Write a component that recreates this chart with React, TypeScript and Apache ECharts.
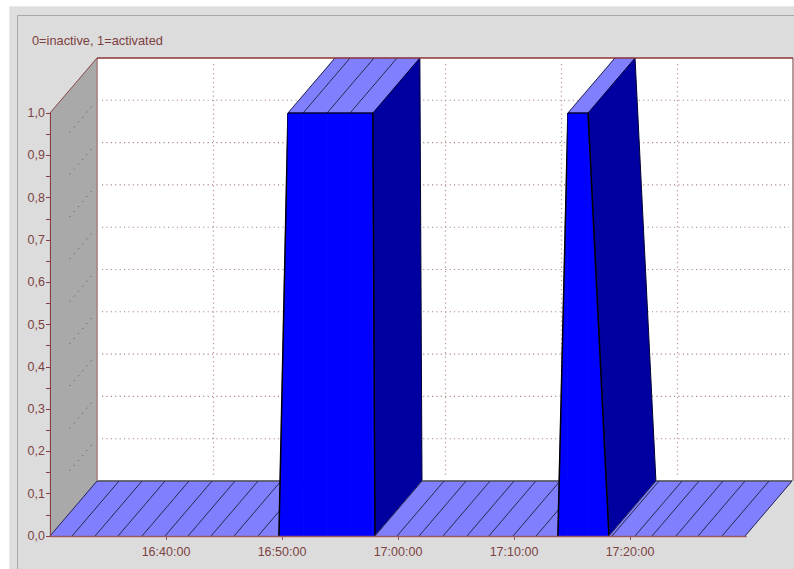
import React, { useEffect, useRef } from "react";
import * as echarts from "echarts";

// Data
const titleText = "0=inactive, 1=activated";
const sampleTimes = [
  "16:30:00", "16:31:54", "16:33:53", "16:35:52", "16:37:56", "16:39:55", "16:41:54", "16:43:53",
  "16:45:52", "16:47:56", "16:49:44", "16:50:31", "16:51:49", "16:53:53", "16:55:52", "16:57:50",
  "16:58:01", "16:59:55", "17:01:49", "17:03:53", "17:05:57", "17:07:50", "17:09:55", "17:11:54",
  "17:13:47", "17:14:39", "17:16:23", "17:18:11", "17:18:27", "17:20:26", "17:21:54", "17:23:58",
  "17:25:52", "17:27:56", "17:29:55",
];
const sampleValues = [
  0, 0, 0, 0, 0, 0, 0, 0,
  0, 0, 0, 1, 1, 1, 1, 1,
  0, 0, 0, 0, 0, 0, 0, 0,
  0, 1, 1, 0, 0, 0, 0, 0,
  0, 0, 0,
];
const xTickTimes = ["16:40:00", "16:50:00", "17:00:00", "17:10:00", "17:20:00"];
const xGridTimes = ["16:40:00", "16:50:00", "17:00:00", "17:10:00", "17:20:00"];
const yGridValues = [0.1, 0.2, 0.3, 0.4, 0.5, 0.6, 0.7, 0.8, 0.9];
const xStart = "16:30:00";
const xEnd = "17:30:00";

const ms = (t: string) => Date.parse(`2000-01-01T${t}Z`);

const DX = 47;
const DY = -55;
const TEXT = "#7d4242";
const FONT = "'Liberation Sans', Arial, sans-serif";

const segments = sampleTimes.slice(0, -1).map((t, i) => [
  ms(t), sampleValues[i], ms(sampleTimes[i + 1]), sampleValues[i + 1], i === sampleTimes.length - 2 ? 1 : 0,
]);

const poly = (points: number[][], fill: string, stroke?: string, lineWidth = 0.6) => ({
  type: "polygon",
  shape: { points },
  style: { fill, stroke: stroke || fill, lineWidth },
  silent: true,
});
const line = (a: number[], b: number[], stroke: string, lineWidth = 1, lineDash?: number[]) => ({
  type: "line",
  shape: { x1: a[0], y1: a[1], x2: b[0], y2: b[1] },
  style: { stroke, lineWidth, lineDash, fill: "none" },
  silent: true,
});
const back = (p: number[]) => [p[0] + DX, p[1] + DY];

function renderWalls(_: any, api: any) {
  const a0 = ms(xStart);
  const a1 = ms(xEnd);
  const f00 = api.coord([a0, 0]);
  const f01 = api.coord([a0, 1]);
  const f10 = api.coord([a1, 0]);
  const b00 = back(f00);
  const b01 = back(f01);
  const b10 = back(f10);
  const children: any[] = [
    poly([b01, [b10[0], b01[1]], b10, b00], "#ffffff"),
    poly([f00, f01, b01, b00], "#a9a9a9"),
  ];
  yGridValues.forEach((v) => {
    const p = api.coord([a0, v]);
    const q = back(p);
    children.push(line([q[0] + 5, q[1]], [b10[0] - 4, q[1]], "#a87f7f", 1.1, [1.1, 3.3]));
    children.push(line([p[0] + DX * 0.42, p[1] + DY * 0.42], [p[0] + DX * 0.95, p[1] + DY * 0.95], "#5f4a4a", 1, [1, 5.5]));
  });
  xGridTimes.forEach((t) => {
    const p = back(api.coord([ms(t), 0]));
    children.push(line([p[0] + 0.5, b01[1] + 6], [p[0] + 0.5, p[1] - 5], "#c29a9a", 1.3, [1.3, 3.2]));
  });
  return { type: "group", children };
}

function renderBand(_: any, api: any) {
  const t0 = api.value(0);
  const v0 = api.value(1);
  const t1 = api.value(2);
  const v1 = api.value(3);
  const isLast = api.value(4) === 1;
  const a = api.coord([t0, v0]);
  const b = api.coord([t1, v1]);
  const base0 = api.coord([t0, 0]);
  const base1 = api.coord([t1, 0]);
  const children: any[] = [];
  const flat = v0 === v1;
  if (flat) {
    children.push(poly([a, b, back(b), back(a)], "#8080ff"));
    if (v0 === 0) children.push(line(back(a), back(b), "#555555", 1.6));
    children.push(line(a, back(a), "#26264f", 1));
    if (isLast) children.push(line(b, back(b), "#26264f", 1));
  } else if (v1 < v0) {
    children.push(poly([a, back(a), back(b), b], "#0000a0", "#000033", 1));
  } else {
    children.push(line(a, back(a), "#26264f", 1));
  }
  if (v0 > 0 || v1 > 0) {
    children.push(poly([base0, a, b, base1], "#0000ff"));
    children.push(line(a, b, "#000000", flat ? 1.2 : 1.5));
  }
  return { type: "group", children };
}

function renderFrame(_: any, api: any) {
  const a0 = ms(xStart);
  const a1 = ms(xEnd);
  const b00 = back(api.coord([a0, 0]));
  const b01 = back(api.coord([a0, 1]));
  const b11 = back(api.coord([a1, 1]));
  const b10 = back(api.coord([a1, 0]));
  const f01 = api.coord([a0, 1]);
  return {
    type: "group",
    children: [
      line(b00, b01, "#a98383", 1.6),
      line(b10, b11, "#b59c9c", 2),
      line(f01, b01, "#8b4a4a", 1),
      line(b01, b11, "#8b3535", 1.4),
    ],
  };
}

const option: any = {
  animation: false,
  useUTC: true,
  title: {
    text: titleText,
    left: 27,
    top: 29,
    textStyle: { color: TEXT, fontSize: 12.8, fontWeight: "normal", fontFamily: FONT },
  },
  graphic: [
    { type: "rect", z: -2, silent: true, shape: { x: 9.5, y: 6.5, width: 790, height: 570 }, style: { fill: "#dedede", stroke: "#e9e9e9", lineWidth: 1 } },
    { type: "rect", z: -1, silent: true, shape: { x: 17.5, y: 15.5, width: 790, height: 570 }, style: { fill: "#dcdcdc", stroke: "#a9a9a9", lineWidth: 1 } },
  ],
  grid: { left: 50, top: 113, width: 696, height: 423, containLabel: false },
  xAxis: {
    type: "time",
    min: ms(xStart),
    max: ms(xEnd),
    z: 6,
    splitLine: { show: false },
    axisLine: { show: true, onZero: false, lineStyle: { color: "#96575f", width: 1.4 } },
    axisTick: { show: true, customValues: xTickTimes.map(ms), length: 4, lineStyle: { color: "#96575f" } },
    axisLabel: {
      customValues: xTickTimes.map(ms),
      formatter: "{HH}:{mm}:{ss}",
      color: TEXT,
      fontSize: 12.5,
      fontFamily: FONT,
      margin: 9,
      hideOverlap: false,
    },
  },
  yAxis: {
    type: "value",
    min: 0,
    max: 1,
    interval: 0.1,
    z: 6,
    splitLine: { show: false },
    axisLine: { show: true, onZero: false, lineStyle: { color: "#8b3f3f", width: 1 } },
    axisTick: { show: true, length: 4, lineStyle: { color: "#8b3f3f" } },
    minorTick: { show: true, splitNumber: 2, length: 4, lineStyle: { color: "#8b3f3f" } },
    axisLabel: {
      formatter: (v: number) => v.toFixed(1).replace(".", ","),
      color: TEXT,
      fontSize: 12.5,
      fontFamily: FONT,
      margin: 5,
    },
  },
  series: [
    { type: "custom", z: 1, silent: true, renderItem: renderWalls, data: [[ms(xStart), 0]], encode: { x: 0, y: 1 } },
    { type: "custom", z: 2, silent: true, renderItem: renderBand, data: segments, encode: { x: [0, 2], y: [1, 3] } },
    { type: "custom", z: 3, silent: true, renderItem: renderFrame, data: [[ms(xStart), 0]], encode: { x: 0, y: 1 } },
  ],
};

export default function App() {
  const ref = useRef<HTMLDivElement>(null);
  useEffect(() => {
    document.body.style.margin = "0";
    document.body.style.overflow = "hidden";
    const chart = echarts.init(ref.current!, undefined, { renderer: "svg" });
    chart.setOption(option);
    return () => chart.dispose();
  }, []);
  return <div ref={ref} style={{ width: 794, height: 569, background: "#ffffff" }} />;
}
